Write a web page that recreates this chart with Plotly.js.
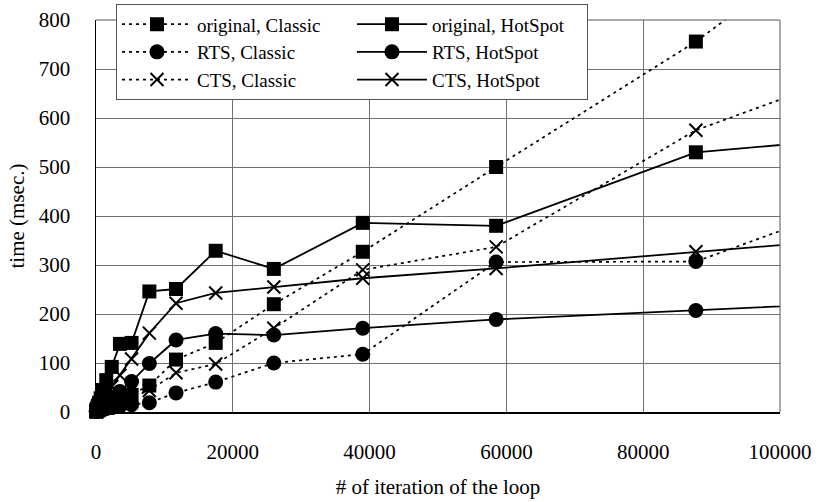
<!DOCTYPE html>
<html>
<head>
<meta charset="utf-8">
<script src="https://cdn.plot.ly/plotly-3.0.1.min.js"></script>
<style>
html,body{margin:0;padding:0;background:#fff;}
#chart{width:818px;height:502px;}
</style>
</head>
<body>
<div id="chart"></div>
<script>
// iterations of the loop (last value lies beyond the visible axis range; only its line segment shows)
const xIter = [40, 60, 90, 130, 200, 300, 450, 680, 1000, 1500, 2300, 3500, 5200, 7800, 11700, 17500, 26000, 39000, 58500, 87700, 131600];

const origClassic = [1, 1, 2, 2, 3, 4, 5, 6, 8, 11, 16, 24, 35, 54, 107, 141, 220, 327, 500, 756, 1210];
const origHotSpot = [2, 3, 4, 6, 9, 13, 19, 28, 45, 65, 92, 139, 141, 246, 251, 329, 292, 386, 380, 530, 583];
const rtsClassic  = [1, 1, 1, 1, 2, 2, 3, 4, 5, 7, 9, 12, 15, 19, 39, 61, 100, 118, 306, 307, 530];
const rtsHotSpot  = [1, 1, 2, 3, 4, 6, 8, 11, 16, 22, 30, 42, 62, 99, 147, 160, 157, 171, 189, 207, 236];
const ctsClassic  = [1, 1, 1, 2, 2, 3, 4, 6, 8, 11, 16, 22, 30, 44, 80, 98, 171, 290, 337, 575, 798];
const ctsHotSpot  = [1, 2, 3, 4, 6, 8, 12, 18, 25, 36, 52, 75, 108, 161, 222, 243, 255, 273, 293, 327, 377];

const seriesNames = ['original, Classic', 'original, HotSpot', 'RTS, Classic', 'RTS, HotSpot', 'CTS, Classic', 'CTS, HotSpot'];
const seriesData = [origClassic, origHotSpot, rtsClassic, rtsHotSpot, ctsClassic, ctsHotSpot];
const symbols = ['square', 'square', 'circle', 'circle', 'x-thin-open', 'x-thin-open'];

const traces = seriesNames.map((name, i) => {
  const classic = i % 2 === 0;
  const sym = symbols[i];
  const isX = sym.startsWith('x');
  return {
    type: 'scatter', mode: 'lines+markers', name: name,
    x: xIter, y: seriesData[i], cliponaxis: false,
    line: {color: '#000', width: classic ? 1.7 : 1.8, dash: classic ? '3px,4px' : 'solid'},
    marker: {
      symbol: sym, color: '#000',
      size: sym === 'square' ? 14 : (isX ? 13 : 15),
      line: {color: '#000', width: isX ? 2 : 0}
    }
  };
});

const fontFamily = 'Liberation Serif, Times New Roman, serif';
const mkFont = (s) => ({family: fontFamily, size: s, color: '#000'});

const layout = {
  width: 818, height: 502,
  margin: {l: 96, r: 38, t: 20, b: 90, autoexpand: false},
  paper_bgcolor: '#fff', plot_bgcolor: '#fff',
  font: mkFont(21),
  showlegend: true,
  legend: {
    orientation: 'h',
    x: 0.0292, xanchor: 'left', y: 1.040, yanchor: 'top',
    bgcolor: '#fff', bordercolor: '#555', borderwidth: 1,
    font: mkFont(19),
    entrywidth: 150, entrywidthmode: 'pixels', itemwidth: 70,
    traceorder: 'normal'
  },
  xaxis: {
    range: [0, 100000], dtick: 20000, tick0: 0, automargin: false,
    showgrid: true, gridcolor: '#707070', gridwidth: 1,
    zeroline: false, showline: true, linecolor: '#000', linewidth: 1.5,
    ticks: '', ticklabelstandoff: 20, tickformat: 'd',
    tickfont: mkFont(21),
    title: {text: '# of iteration of the loop', font: mkFont(21), standoff: 16}
  },
  yaxis: {
    range: [0, 800], dtick: 100, tick0: 0, automargin: false,
    showgrid: true, gridcolor: '#707070', gridwidth: 1,
    zeroline: false, showline: true, linecolor: '#000', linewidth: 1.5,
    ticks: '', ticklabelstandoff: 20,
    tickfont: mkFont(21),
    title: {text: 'time (msec.)', font: mkFont(21), standoff: 8}
  },
  shapes: [
    {type: 'line', xref: 'paper', yref: 'paper', x0: 1, x1: 1, y0: 0, y1: 1, line: {color: '#555', width: 1}},
    {type: 'line', xref: 'paper', yref: 'paper', x0: 0, x1: 1, y0: 1, y1: 1, line: {color: '#555', width: 1}}
  ]
};

Plotly.newPlot('chart', traces, layout, {displayModeBar: false, staticPlot: true});
</script>
</body>
</html>
